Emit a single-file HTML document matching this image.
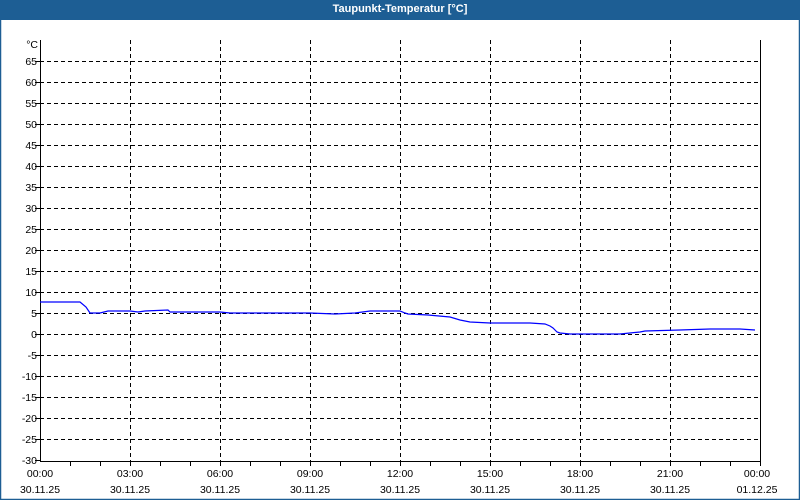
<!DOCTYPE html>
<html><head><style>
html,body{margin:0;padding:0;background:#fff}
svg{display:block}
text{font-family:"Liberation Sans",sans-serif;font-size:10.5px;fill:#000}
</style></head><body>
<svg width="800" height="500" xmlns="http://www.w3.org/2000/svg">
<rect x="0" y="0" width="800" height="500" fill="#fff"/>
<rect x="0.5" y="0.5" width="799" height="499" fill="none" stroke="#1d5e94" stroke-width="1.5"/>
<rect x="0" y="0" width="800" height="20" fill="#1d5e94"/>
<text x="400" y="12" text-anchor="middle" style="fill:#fff;font-weight:bold;font-size:11px">Taupunkt-Temperatur [°C]</text>
<g stroke="#000" stroke-width="1" stroke-dasharray="4,3" fill="none">
<path d="M40 61.5H760M40 82.5H760M40 103.5H760M40 124.5H760M40 145.5H760M40 166.5H760M40 187.5H760M40 208.5H760M40 229.5H760M40 250.5H760M40 271.5H760M40 292.5H760M40 313.5H760M40 334.5H760M40 355.5H760M40 376.5H760M40 397.5H760M40 418.5H760M40 439.5H760"/>
<path d="M130.5 40V461M220.5 40V461M310.5 40V461M400.5 40V461M490.5 40V461M580.5 40V461M670.5 40V461"/>
</g>
<g stroke="#000" stroke-width="1" fill="none">
<path d="M40.5 40V461.5H760.5V40"/>
<path d="M70.5 461V466M100.5 461V466M130.5 461V466M160.5 461V466M190.5 461V466M220.5 461V466M250.5 461V466M280.5 461V466M310.5 461V466M340.5 461V466M370.5 461V466M400.5 461V466M430.5 461V466M460.5 461V466M490.5 461V466M520.5 461V466M550.5 461V466M580.5 461V466M610.5 461V466M640.5 461V466M670.5 461V466M700.5 461V466M730.5 461V466M760.5 461V466"/>
<path d="M35 61.5H40M35 82.5H40M35 103.5H40M35 124.5H40M35 145.5H40M35 166.5H40M35 187.5H40M35 208.5H40M35 229.5H40M35 250.5H40M35 271.5H40M35 292.5H40M35 313.5H40M35 334.5H40M35 355.5H40M35 376.5H40M35 397.5H40M35 418.5H40M35 439.5H40M35 460.5H40"/>
</g>
<g text-anchor="end">
<text x="38" y="48">°C</text>
<text x="37" y="65">65</text><text x="37" y="86">60</text><text x="37" y="107">55</text><text x="37" y="128">50</text>
<text x="37" y="149">45</text><text x="37" y="170">40</text><text x="37" y="191">35</text><text x="37" y="212">30</text>
<text x="37" y="233">25</text><text x="37" y="254">20</text><text x="37" y="275">15</text><text x="37" y="296">10</text>
<text x="37" y="317">5</text><text x="37" y="338">0</text><text x="37" y="359">-5</text><text x="37" y="380">-10</text>
<text x="37" y="401">-15</text><text x="37" y="422">-20</text><text x="37" y="443">-25</text><text x="37" y="464">-30</text>
</g>
<g text-anchor="middle">
<text x="40" y="477">00:00</text><text x="40" y="493">30.11.25</text>
<text x="130" y="477">03:00</text><text x="130" y="493">30.11.25</text>
<text x="220" y="477">06:00</text><text x="220" y="493">30.11.25</text>
<text x="310" y="477">09:00</text><text x="310" y="493">30.11.25</text>
<text x="400" y="477">12:00</text><text x="400" y="493">30.11.25</text>
<text x="490" y="477">15:00</text><text x="490" y="493">30.11.25</text>
<text x="580" y="477">18:00</text><text x="580" y="493">30.11.25</text>
<text x="670" y="477">21:00</text><text x="670" y="493">30.11.25</text>
<text x="757" y="477">00:00</text><text x="757" y="493">01.12.25</text>
</g>
<polyline fill="none" stroke="#0000ff" stroke-width="1.2" points="40,302 80,302 86,307 90,313 100,313 108,311 130,311 138,312 145,311 168,310 170,312 220,312 230,313 310,313 335,314 355,313 370,311 400,311 405,313 408,314 428,315 450,317 460,320 470,322 490,323 512,323 530,323 545,324 550,326 553,328 557,332 560,333 570,334 620,334 640,332 645,331 680,330 710,329 740,329 755,330"/>
</svg>
</body></html>
